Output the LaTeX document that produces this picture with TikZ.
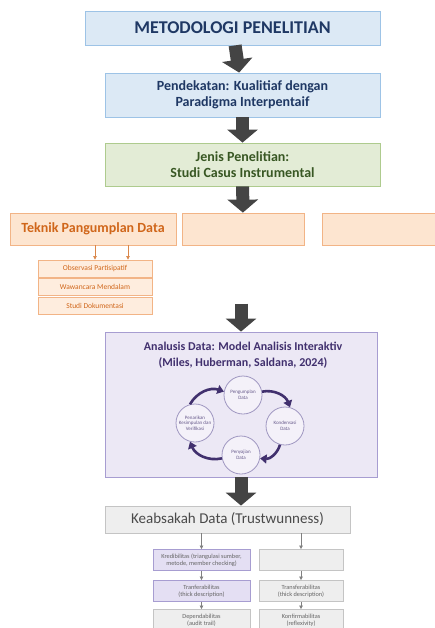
\documentclass[tikz,border=0pt]{standalone}
\usepackage{fontspec}
\setmainfont{Carlito}
\usetikzlibrary{positioning}
\usetikzlibrary{arrows.meta}

\definecolor{bluefill}{HTML}{DCE9F5}
\definecolor{blueline}{HTML}{9DC3E6}
\definecolor{bluetext}{HTML}{1F3864}
\definecolor{greenfill}{HTML}{E3ECD6}
\definecolor{greenline}{HTML}{AECB8E}
\definecolor{greentext}{HTML}{385723}
\definecolor{orangefill}{HTML}{FDE5D0}
\definecolor{orangeline}{HTML}{F2B486}
\definecolor{orangetext}{HTML}{D0661A}
\definecolor{purplefill}{HTML}{ECE8F5}
\definecolor{purpleline}{HTML}{A79DD1}
\definecolor{purpletext}{HTML}{41306E}
\definecolor{lavfill}{HTML}{E4DFF3}
\definecolor{grayfill}{HTML}{EEEEEE}
\definecolor{grayline}{HTML}{C4C4C4}
\definecolor{graytext}{HTML}{4A4A4A}
\definecolor{arrowgray}{HTML}{444444}

\begin{document}
\begin{tikzpicture}[
  x=1pt, y=1pt,
  box/.style = {draw, rectangle, inner sep=1pt, align=center, line width=0.8pt},
  bluebox/.style = {box, draw=blueline, fill=bluefill, text=bluetext,
    font=\bfseries\fontsize{14}{16}\selectfont},
  greenbox/.style = {box, draw=greenline, fill=greenfill, text=greentext,
    font=\bfseries\fontsize{14}{16}\selectfont},
  orangebox/.style = {box, draw=orangeline, fill=orangefill, text=orangetext,
    font=\bfseries\fontsize{14}{16}\selectfont, minimum height=32},
  obsbox/.style = {box, draw=orangeline, fill=orangefill!70, text=orangetext,
    font=\fontsize{7.5}{8}\selectfont, minimum width=114, minimum height=17},
  purplebox/.style = {box, draw=purpleline, fill=purplefill, text=purpletext},
  stage/.style = {circle, draw=purpleline!80!gray, fill=purplefill!60,
    line width=0.8pt, minimum size=38, inner sep=0pt, align=center,
    text=purpletext!80, font=\fontsize{5}{5.6}\selectfont},
  graybox/.style = {box, draw=grayline, fill=grayfill, text=graytext!85,
    font=\fontsize{6.3}{7}\selectfont, minimum height=21},
  lavbox/.style = {graybox, draw=purpleline, fill=lavfill},
  bigarrow/.style = {draw=arrowgray, line width=13pt,
    -{Triangle[width=30pt,length=13pt]}},
  cyc/.style = {draw=purpletext, line width=2.6pt, bend left=40,
    -{Triangle[width=9pt,length=6.5pt]}},
  smallarr/.style = {line width=0.6pt, -{Triangle[width=3.5pt,length=3.5pt]}}
]

  \useasboundingbox (0,0) rectangle (435,-628);

  % top of the chart
  \node[bluebox, minimum width=295, minimum height=34,
    font=\bfseries\fontsize{18}{20}\selectfont] (title) at (232.5,-28)
    {METODOLOGI PENELITIAN};
  \node[bluebox, minimum width=275, minimum height=44] (approach) at (242.5,-95)
    {Pendekatan: Kualitiaf dengan\\Paradigma Interpentaif};
  \node[greenbox, minimum width=275, minimum height=43] (jenis) at (242.5,-164.5)
    {Jenis Penelitian:\\Studi Casus Instrumental};

  \draw[bigarrow] (title) -- (approach);
  \draw[bigarrow] (approach) -- (jenis);

  % orange row
  \node[orangebox, minimum width=166] (teknik) at (93,-229) {Teknik Pangumplan Data};
  \node[orangebox, minimum width=122] (orangeB) at (243,-229) {};
  \node[orangebox, minimum width=116] (orangeC) at (380,-229) {};

  \draw[bigarrow] (jenis) -- (orangeB);

  \node[obsbox] (obs) at (95,-268.5) {Observasi Partisipatif};
  \node[obsbox, below=1pt of obs] (waw) {Wawancara Mendalam};
  \node[obsbox, below=1pt of waw] (studi) {Studi Dokumentasi};

  \draw[smallarr, draw=orangetext!80] (teknik.south -| obs.north) -- (obs.north);
  \draw[smallarr, draw=orangetext!80] ([xshift=33pt]teknik.south -| obs.north)
    -- ([xshift=33pt]obs.north);

  % analysis
  \node[purplebox, minimum width=272, minimum height=145] (analysis) at (241,-404.5) {};
  \node[text=purpletext, font=\bfseries\fontsize{12}{16}\selectfont, align=center]
    (antitle) at (243,-355) {Analusis Data: Model Analisis Interaktiv\\(Miles, Huberman, Saldana, 2024)};

  \draw[bigarrow] ([yshift=28pt]analysis.north) -- (analysis.north);

  \node[stage] (collect) at (243,-395) {Pengumplan\\Data};
  \node[stage] (condense) at (285,-426) {Kondensasi\\Data};
  \node[stage] (display) at (241,-455) {Penyajian\\Data};
  \node[stage] (conclude) at (195,-423) {Penarikan\\Kesimpulan dan\\Verifikasi};

  \draw[cyc] (conclude.105) to (collect.170);
  \draw[cyc] (collect.10) to (condense.75);
  \draw[cyc] (condense.-105) to (display.-10);
  \draw[cyc] (display.190) to (conclude.-105);

  % trustworthiness
  \node[box, draw=grayline, fill=grayfill, text=graytext, minimum width=245,
    minimum height=27, font=\fontsize{15}{17}\selectfont] (trust) at (227.5,-519.5)
    {Keabsakah Data (Trustwunness)};

  \draw[bigarrow] (analysis.south) -- (trust.north -| analysis.south);

  \node[lavbox, minimum width=97] (kred) at (201.5,-560)
    {Kredibilitas (triangulasi sumber,\\metode, member checking)};
  \node[lavbox, minimum width=97] (transL) at (201.5,-591)
    {Tranferabilitas\\(thick description)};
  \node[graybox, minimum width=97] (depend) at (201.5,-620)
    {Dependabilitas\\(audit trail)};
  \node[graybox, minimum width=84] (blank) at (301,-560) {};
  \node[graybox, minimum width=84] (transR) at (301,-591)
    {Transferabilitas\\(thick description)};
  \node[graybox, minimum width=84] (konf) at (301,-620)
    {Konfirmabilitas\\(reflexivity)};

  \draw[smallarr, draw=graytext!70] (trust.south -| kred.north) -- (kred.north);
  \draw[smallarr, draw=graytext!70] (trust.south -| blank.north) -- (blank.north);
  \draw[smallarr, draw=graytext!70] (kred) -- (transL);
  \draw[smallarr, draw=graytext!70] (transL) -- (depend);
  \draw[smallarr, draw=graytext!70] (blank) -- (transR);
  \draw[smallarr, draw=graytext!70] (transR) -- (konf);

\end{tikzpicture}
\end{document}
